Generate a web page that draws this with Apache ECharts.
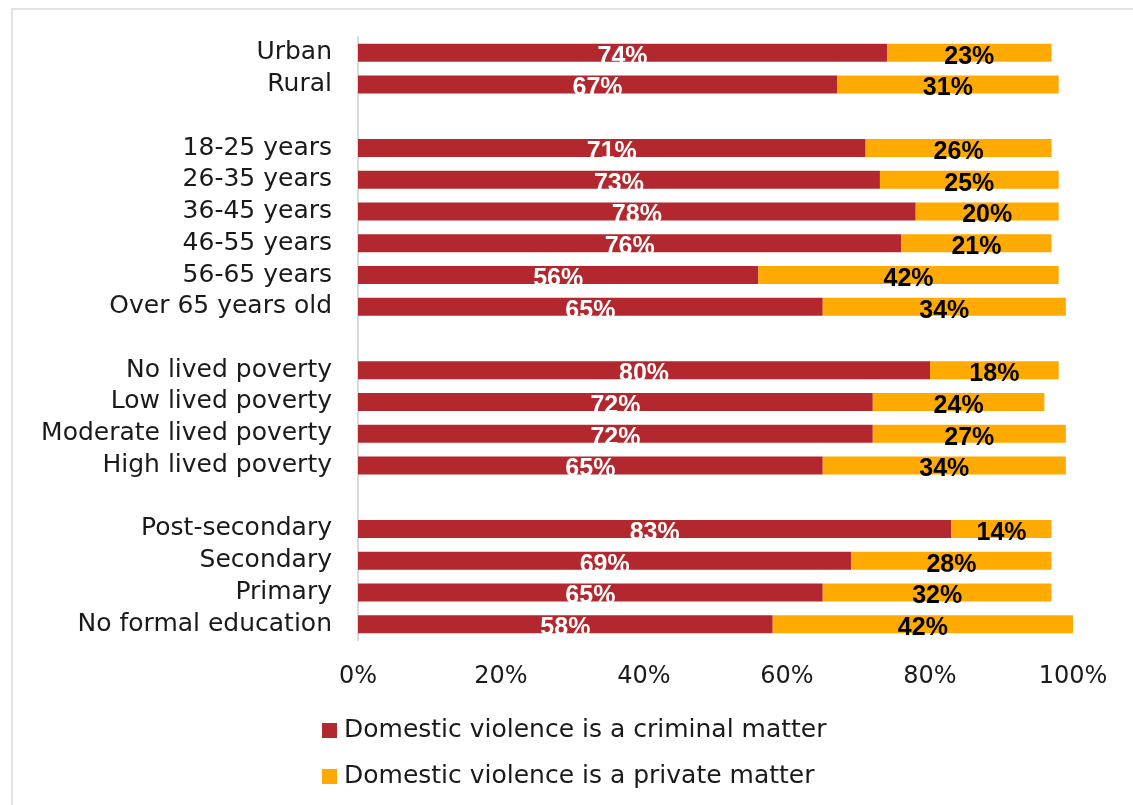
<!DOCTYPE html>
<html>
<head>
<meta charset="utf-8">
<script src="https://cdn.jsdelivr.net/npm/echarts@6/dist/echarts.min.js"></script>
<style>
  html, body { margin: 0; padding: 0; background: #fff; overflow: hidden; width: 1133px; height: 805px; }
  #frame { position: absolute; left: 11px; top: 8px; width: 1300px; height: 1000px;
           border-left: 2px solid #e2e2e2; border-top: 2px solid #e2e2e2; box-sizing: border-box; }
  #chart { position: absolute; left: 0; top: 0; width: 1133px; height: 805px; }
</style>
</head>
<body>
<div id="frame"></div>
<div id="chart"></div>
<script>
// Group rows; empty strings are spacer rows between groups
const categories = [
  'Urban', 'Rural', '',
  '18-25 years', '26-35 years', '36-45 years', '46-55 years', '56-65 years', 'Over 65 years old', '',
  'No lived poverty', 'Low lived poverty', 'Moderate lived poverty', 'High lived poverty', '',
  'Post-secondary', 'Secondary', 'Primary', 'No formal education'
];
const criminalMatter = [74, 67, '-', 71, 73, 78, 76, 56, 65, '-', 80, 72, 72, 65, '-', 83, 69, 65, 58];
const privateMatter  = [23, 31, '-', 26, 25, 20, 21, 42, 34, '-', 18, 24, 27, 34, '-', 14, 28, 32, 42];
const seriesNames = ['Domestic violence is a criminal matter', 'Domestic violence is a private matter'];
const xTicks = [0, 20, 40, 60, 80, 100];

const textFont = '"DejaVu Sans", sans-serif';
const labelFont = '"Liberation Sans", Arial, sans-serif';

const chart = echarts.init(document.getElementById('chart'));
chart.setOption({
  animation: false,
  grid: { left: 358, right: 60, top: 37, bottom: 165, containLabel: false },
  legend: {
    orient: 'vertical', left: 322, top: 718, itemGap: 21, padding: 0,
    itemWidth: 15, itemHeight: 15, icon: 'rect',
    textStyle: { fontFamily: textFont, fontSize: 25, color: '#1a1a1a', padding: [0, 0, 0, 2] },
    data: seriesNames
  },
  xAxis: {
    type: 'value', min: 0, max: 100, interval: 20,
    axisLine: { show: false }, axisTick: { show: false }, splitLine: { show: false },
    axisLabel: {
      margin: 25, fontFamily: textFont, fontSize: 24, color: '#1a1a1a',
      formatter: v => xTicks.includes(v) ? v + '%' : ''
    }
  },
  yAxis: {
    type: 'category', inverse: true, data: categories,
    axisLine: { show: true, lineStyle: { color: '#d9d9d9', width: 2 } },
    axisTick: { show: false },
    axisLabel: { interval: 0, margin: 26, fontFamily: textFont, fontSize: 25, color: '#1a1a1a' }
  },
  series: [
    {
      name: seriesNames[0], type: 'bar', stack: 'total', data: criminalMatter,
      barWidth: 18, itemStyle: { color: '#B3282E' },
      label: {
        show: true, position: 'inside', offset: [0, 4], formatter: '{c}%',
        fontFamily: labelFont, fontWeight: 'bold', fontSize: 25, color: '#fff'
      }
    },
    {
      name: seriesNames[1], type: 'bar', stack: 'total', data: privateMatter,
      barWidth: 18, itemStyle: { color: '#FFAA00' },
      label: {
        show: true, position: 'inside', offset: [0, 4], formatter: '{c}%',
        fontFamily: labelFont, fontWeight: 'bold', fontSize: 25, color: '#000'
      }
    }
  ]
});
</script>
</body>
</html>
